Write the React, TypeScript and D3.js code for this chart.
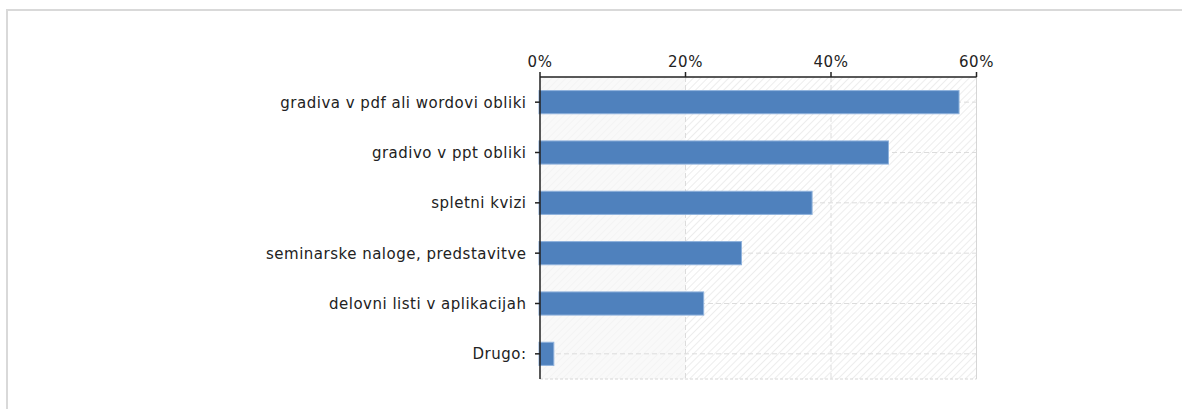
import React from "react";
import * as d3 from "d3";

const categories = [
  "gradiva v pdf ali wordovi obliki",
  "gradivo v ppt obliki",
  "spletni kvizi",
  "seminarske naloge, predstavitve",
  "delovni listi v aplikacijah",
  "Drugo:",
];
const values = [57.6, 47.9, 37.4, 27.7, 22.5, 1.9];
const xTicks = [0, 20, 40, 60];

const W = 1182;
const H = 409;
const left = 540;
const right = 976.5;
const top = 77;
const bottom = 379;
const FONT = "'DejaVu Sans', Verdana, sans-serif";

export default function App() {
  const x = d3.scaleLinear().domain([0, 60]).range([left, right]);
  const y = d3
    .scaleBand<string>()
    .domain(categories)
    .range([top, bottom])
    .paddingInner(0.54)
    .paddingOuter(0.27);

  return (
    <svg
      width={W}
      height={H}
      style={{ position: "absolute", left: 0, top: 0, background: "#fff" }}
    >
      <defs>
        <pattern
          id="hatch"
          patternUnits="userSpaceOnUse"
          width={5}
          height={5}
          patternTransform="rotate(45)"
        >
          <line x1={0} y1={0} x2={0} y2={5} stroke="#e4e4e4" strokeWidth={1.3} />
        </pattern>
      </defs>
      {/* outer frame */}
      <rect
        x={7}
        y={10}
        width={W + 20}
        height={H + 20}
        fill="none"
        stroke="#d9d9d9"
        strokeWidth={2}
      />
      {/* plot background */}
      <rect x={left} y={top} width={right - left} height={bottom - top} fill="#fff" />
      <rect x={left} y={top} width={right - left} height={bottom - top} fill="url(#hatch)" />
      <rect
        x={x(0)}
        y={top}
        width={x(20) - x(0)}
        height={bottom - top}
        fill="#f7f7f7"
        opacity={0.7}
      />
      {/* vertical grid */}
      {xTicks.slice(1, -1).map((t) => (
        <line
          key={"gx" + t}
          x1={x(t)}
          x2={x(t)}
          y1={top}
          y2={bottom}
          stroke="#dcdcdc"
          strokeWidth={1}
          strokeDasharray="5,3"
        />
      ))}
      <line x1={right} x2={right} y1={top} y2={bottom} stroke="#d6d6d6" strokeWidth={1} />
      {/* horizontal grid */}
      {categories.map((c) => {
        const cy = (y(c) ?? 0) + y.bandwidth() / 2;
        return (
          <line
            key={"gy" + c}
            x1={left}
            x2={right}
            y1={cy}
            y2={cy}
            stroke="#dcdcdc"
            strokeWidth={1}
            strokeDasharray="5,3"
          />
        );
      })}
      <line
        x1={left}
        x2={right}
        y1={bottom}
        y2={bottom}
        stroke="#d6d6d6"
        strokeWidth={1}
        strokeDasharray="3,2"
      />
      {/* bars */}
      {categories.map((c, i) => (
        <rect
          key={"b" + c}
          x={x(0) - 1}
          y={y(c) ?? 0}
          width={x(values[i]) - x(0) + 1}
          height={y.bandwidth()}
          fill="#4f81bd"
          stroke="#8fb2dc"
          strokeWidth={1}
        />
      ))}
      {/* axes */}
      <line x1={left} x2={right} y1={top} y2={top} stroke="#222" strokeWidth={1.5} />
      <line x1={left} x2={left} y1={top} y2={bottom} stroke="#222" strokeWidth={1.5} />
      {xTicks.map((t) => (
        <g key={"t" + t}>
          <line x1={x(t)} x2={x(t)} y1={top} y2={top - 5} stroke="#222" strokeWidth={1.5} />
          <text
            x={x(t)}
            y={66.5}
            textAnchor="middle"
            fontFamily={FONT}
            fontSize={15}
            letterSpacing={0.5}
            fill="#222"
          >
            {t + "%"}
          </text>
        </g>
      ))}
      {categories.map((c) => {
        const cy = (y(c) ?? 0) + y.bandwidth() / 2;
        return (
          <g key={"l" + c}>
            <line x1={left - 5} x2={left} y1={cy} y2={cy} stroke="#222" strokeWidth={1.5} />
            <text
              x={left - 13.5}
              y={cy}
              dy="0.36em"
              textAnchor="end"
              fontFamily={FONT}
              fontSize={15}
              letterSpacing={0.5}
              fill="#222"
            >
              {c}
            </text>
          </g>
        );
      })}
    </svg>
  );
}
